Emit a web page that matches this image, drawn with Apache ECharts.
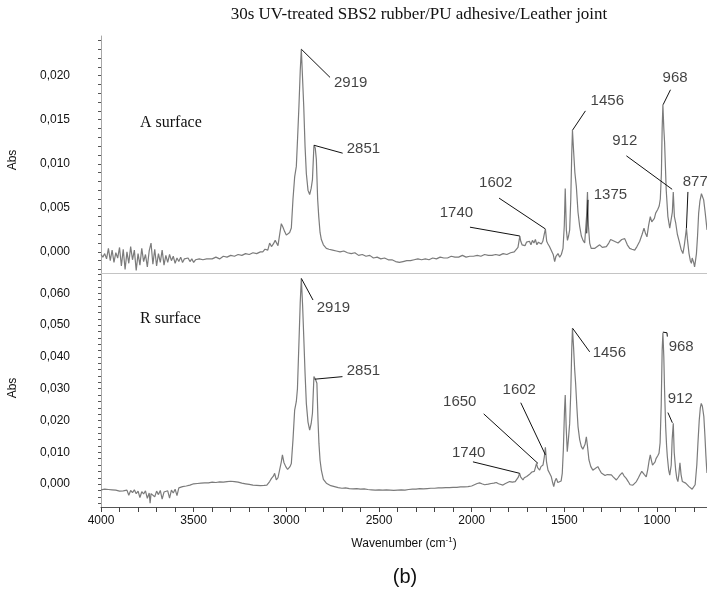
<!DOCTYPE html>
<html><head><meta charset="utf-8">
<script src="https://cdn.jsdelivr.net/npm/echarts@6/dist/echarts.min.js"></script>
<style>html,body{margin:0;padding:0;background:#fff}#c{width:707px;height:590px}</style>
</head><body><div id="c"></div>
<script>
// Spectrum A surface: [wavenumber, Abs]
const surfaceA = [[4000,-0.0003],[3990,-0.0006],[3980,-0.0002],[3970,-0.0008],[3960,0.0004],[3950,-0.0010],[3940,0.0002],[3930,-0.0012],[3920,-0.0001],[3910,-0.0007],[3900,0.0005],[3890,-0.0016],[3880,0.0003],[3870,-0.0020],[3860,0.0000],[3850,-0.0013],[3840,0.0006],[3830,-0.0009],[3820,0.0002],[3810,-0.0021],[3800,-0.0002],[3790,-0.0015],[3780,0.0004],[3770,-0.0011],[3760,-0.0003],[3750,-0.0017],[3740,0.0001],[3730,0.0010],[3720,-0.0014],[3710,0.0003],[3700,-0.0016],[3690,-0.0002],[3680,-0.0012],[3670,0.0002],[3660,-0.0015],[3650,-0.0004],[3640,-0.0012],[3630,-0.0003],[3620,-0.0010],[3610,-0.0005],[3600,-0.0013],[3590,-0.0007],[3580,-0.0011],[3570,-0.0006],[3560,-0.0012],[3550,-0.0008],[3540,-0.0010],[3530,-0.0007],[3520,-0.0011],[3510,-0.0008],[3500,-0.0012],[3490,-0.0009],[3480,-0.0011],[3470,-0.0008],[3460,-0.0010],[3450,-0.0009],[3440,-0.0011],[3430,-0.0008],[3420,-0.0010],[3400,-0.0008],[3380,-0.0006],[3360,-0.0008],[3340,-0.0005],[3320,-0.0006],[3300,-0.0004],[3280,-0.0005],[3260,-0.0003],[3240,-0.0004],[3220,-0.0002],[3200,-0.0003],[3180,-0.0001],[3160,-0.0002],[3140,0.0000],[3127,0.0000],[3115,0.0003],[3100,0.0002],[3090,0.0010],[3080,0.0006],[3070,0.0009],[3060,0.0013],[3054,0.0012],[3045,0.0007],[3036,0.0005],[3027,0.0032],[3018,0.0028],[3009,0.0023],[3000,0.0019],[2991,0.0017],[2982,0.0022],[2973,0.0027],[2964,0.0060],[2955,0.0085],[2946,0.0097],[2939,0.0130],[2932,0.0165],[2925,0.0205],[2919,0.0230],[2912,0.0195],[2906,0.0165],[2899,0.0120],[2892,0.0089],[2883,0.0070],[2874,0.0065],[2866,0.0072],[2859,0.0082],[2851,0.0121],[2844,0.0118],[2838,0.0105],[2831,0.0060],[2825,0.0040],[2818,0.0022],[2811,0.0014],[2800,0.0008],[2784,0.0004],[2770,0.0003],[2750,0.0002],[2730,0.0001],[2710,0.0000],[2690,0.0001],[2670,-0.0001],[2650,-0.0002],[2630,-0.0001],[2610,-0.0004],[2590,-0.0003],[2570,-0.0005],[2550,-0.0004],[2530,-0.0007],[2510,-0.0006],[2490,-0.0008],[2470,-0.0007],[2450,-0.0009],[2430,-0.0009],[2410,-0.0011],[2390,-0.0012],[2370,-0.0011],[2350,-0.0010],[2330,-0.0010],[2310,-0.0009],[2290,-0.0008],[2270,-0.0009],[2250,-0.0008],[2230,-0.0009],[2210,-0.0007],[2190,-0.0008],[2170,-0.0006],[2150,-0.0007],[2130,-0.0007],[2110,-0.0005],[2090,-0.0006],[2070,-0.0006],[2050,-0.0004],[2030,-0.0006],[2010,-0.0005],[1990,-0.0005],[1970,-0.0004],[1950,-0.0005],[1930,-0.0003],[1910,-0.0004],[1890,-0.0004],[1870,-0.0003],[1850,-0.0004],[1830,-0.0002],[1810,-0.0003],[1790,-0.0001],[1770,0.0000],[1760,0.0002],[1750,0.0005],[1740,0.0018],[1735,0.0012],[1728,0.0008],[1720,0.0010],[1712,0.0007],[1704,0.0011],[1696,0.0009],[1688,0.0012],[1680,0.0008],[1672,0.0013],[1664,0.0010],[1656,0.0014],[1648,0.0008],[1640,0.0011],[1632,0.0013],[1624,0.0009],[1616,0.0012],[1608,0.0020],[1602,0.0026],[1595,0.0012],[1588,0.0009],[1580,0.0006],[1570,0.0004],[1560,-0.0003],[1552,-0.0011],[1545,-0.0005],[1534,-0.0002],[1525,-0.0006],[1516,-0.0003],[1507,0.0004],[1500,0.0030],[1495,0.0072],[1489,0.0025],[1483,0.0013],[1477,0.0018],[1471,0.0025],[1465,0.0060],[1460,0.0110],[1456,0.0138],[1450,0.0115],[1443,0.0090],[1435,0.0074],[1426,0.0045],[1417,0.0029],[1408,0.0018],[1399,0.0013],[1390,0.0010],[1385,0.0012],[1380,0.0040],[1375,0.0068],[1370,0.0030],[1363,0.0010],[1355,0.0004],[1345,0.0002],[1335,0.0004],[1325,0.0006],[1309,0.0008],[1295,0.0005],[1285,0.0007],[1273,0.0006],[1260,0.0010],[1250,0.0014],[1241,0.0015],[1230,0.0012],[1220,0.0010],[1210,0.0010],[1200,0.0012],[1190,0.0014],[1174,0.0015],[1160,0.0008],[1147,0.0004],[1135,0.0003],[1120,0.0002],[1108,0.0006],[1093,0.0012],[1080,0.0020],[1070,0.0027],[1062,0.0021],[1054,0.0017],[1045,0.0030],[1036,0.0040],[1028,0.0034],[1021,0.0032],[1014,0.0038],[1007,0.0044],[996,0.0048],[988,0.0052],[982,0.0060],[976,0.0089],[972,0.0140],[968,0.0167],[963,0.0140],[959,0.0125],[950,0.0070],[941,0.0040],[931,0.0027],[923,0.0028],[917,0.0045],[912,0.0068],[906,0.0040],[899,0.0033],[890,0.0020],[880,0.0012],[870,0.0003],[860,-0.0002],[852,0.0008],[846,0.0018],[841,0.0027],[836,0.0015],[827,-0.0002],[820,-0.0010],[814,-0.0013],[810,-0.0007],[806,-0.0005],[802,-0.0012],[797,-0.0017],[792,-0.0010],[787,-0.0002],[781,0.0018],[775,0.0044],[768,0.0058],[760,0.0066],[754,0.0064],[748,0.0059],[740,0.0045],[732,0.0029],[730,0.0025]];

// Spectrum R surface: [wavenumber, Abs]
const surfaceR = [[4000,-0.0018],[3990,-0.0022],[3980,-0.0016],[3970,-0.0020],[3960,-0.0017],[3950,-0.0021],[3940,-0.0018],[3930,-0.0023],[3920,-0.0019],[3910,-0.0017],[3900,-0.0022],[3890,-0.0018],[3880,-0.0021],[3870,-0.0025],[3860,-0.0019],[3850,-0.0035],[3840,-0.0020],[3830,-0.0027],[3820,-0.0018],[3810,-0.0030],[3800,-0.0022],[3790,-0.0042],[3780,-0.0024],[3770,-0.0031],[3760,-0.0021],[3750,-0.0045],[3740,-0.0028],[3735,-0.0060],[3730,-0.0030],[3720,-0.0024],[3710,-0.0040],[3700,-0.0022],[3690,-0.0033],[3680,-0.0020],[3670,-0.0047],[3660,-0.0025],[3650,-0.0030],[3640,-0.0021],[3630,-0.0044],[3620,-0.0019],[3610,-0.0028],[3600,-0.0016],[3590,-0.0036],[3580,-0.0012],[3570,-0.0015],[3560,-0.0008],[3550,-0.0010],[3540,-0.0006],[3530,-0.0004],[3520,-0.0003],[3500,0.0001],[3480,0.0002],[3460,0.0003],[3440,0.0004],[3420,0.0004],[3400,0.0006],[3380,0.0005],[3360,0.0007],[3340,0.0006],[3320,0.0008],[3300,0.0009],[3290,0.0014],[3280,0.0008],[3260,0.0006],[3240,0.0003],[3220,0.0001],[3200,-0.0001],[3180,-0.0003],[3160,-0.0004],[3140,-0.0005],[3120,-0.0004],[3105,-0.0003],[3090,0.0008],[3080,0.0018],[3070,0.0025],[3063,0.0034],[3054,0.0013],[3045,0.0020],[3036,0.0023],[3027,0.0070],[3021,0.0092],[3013,0.0068],[3003,0.0055],[2993,0.0046],[2987,0.0044],[2980,0.0055],[2973,0.0065],[2964,0.0140],[2955,0.0233],[2946,0.0260],[2940,0.0300],[2932,0.0443],[2925,0.0570],[2919,0.0647],[2912,0.0560],[2906,0.0464],[2899,0.0350],[2892,0.0254],[2883,0.0195],[2874,0.0170],[2866,0.0190],[2859,0.0223],[2851,0.0338],[2843,0.0330],[2835,0.0317],[2829,0.0200],[2824,0.0128],[2818,0.0075],[2811,0.0044],[2800,0.0015],[2784,0.0003],[2760,-0.0005],[2740,-0.0008],[2720,-0.0011],[2700,-0.0013],[2680,-0.0012],[2660,-0.0014],[2640,-0.0015],[2620,-0.0014],[2600,-0.0016],[2580,-0.0015],[2560,-0.0017],[2540,-0.0018],[2520,-0.0019],[2500,-0.0018],[2480,-0.0019],[2460,-0.0018],[2440,-0.0019],[2420,-0.0020],[2400,-0.0019],[2380,-0.0018],[2360,-0.0019],[2340,-0.0017],[2320,-0.0016],[2300,-0.0016],[2280,-0.0014],[2260,-0.0015],[2240,-0.0014],[2220,-0.0013],[2200,-0.0013],[2180,-0.0012],[2160,-0.0012],[2140,-0.0011],[2120,-0.0011],[2100,-0.0010],[2080,-0.0010],[2060,-0.0009],[2040,-0.0009],[2020,-0.0008],[2000,-0.0006],[1985,-0.0002],[1970,0.0002],[1957,0.0004],[1945,0.0001],[1930,-0.0002],[1921,-0.0003],[1910,0.0000],[1895,0.0002],[1880,0.0003],[1867,0.0005],[1855,0.0001],[1845,-0.0001],[1831,-0.0003],[1820,0.0001],[1810,0.0004],[1795,0.0008],[1780,0.0006],[1765,0.0008],[1755,0.0012],[1748,0.0022],[1741,0.0034],[1735,0.0022],[1728,0.0016],[1723,0.0013],[1716,0.0020],[1710,0.0015],[1703,0.0024],[1696,0.0023],[1689,0.0030],[1682,0.0026],[1675,0.0038],[1669,0.0044],[1662,0.0040],[1656,0.0052],[1650,0.0065],[1644,0.0052],[1638,0.0048],[1633,0.0044],[1626,0.0055],[1620,0.0058],[1615,0.0060],[1608,0.0085],[1602,0.0116],[1596,0.0070],[1588,0.0044],[1580,0.0035],[1570,0.0023],[1563,0.0005],[1557,-0.0008],[1550,0.0010],[1543,0.0018],[1535,0.0005],[1525,0.0003],[1517,0.0010],[1511,0.0034],[1505,0.0110],[1499,0.0230],[1495,0.0280],[1490,0.0180],[1484,0.0102],[1478,0.0140],[1471,0.0191],[1465,0.0290],[1460,0.0420],[1456,0.0490],[1450,0.0430],[1444,0.0360],[1439,0.0317],[1432,0.0240],[1426,0.0181],[1417,0.0140],[1408,0.0118],[1400,0.0110],[1394,0.0107],[1388,0.0125],[1381,0.0149],[1375,0.0120],[1367,0.0076],[1357,0.0055],[1346,0.0044],[1335,0.0048],[1325,0.0052],[1319,0.0055],[1310,0.0045],[1300,0.0035],[1292,0.0029],[1280,0.0027],[1268,0.0030],[1258,0.0032],[1246,0.0029],[1235,0.0022],[1225,0.0016],[1219,0.0013],[1210,0.0020],[1200,0.0028],[1192,0.0034],[1187,0.0036],[1178,0.0026],[1166,0.0018],[1155,0.0008],[1145,-0.0002],[1138,-0.0008],[1130,-0.0003],[1120,0.0002],[1111,0.0008],[1100,0.0020],[1090,0.0032],[1082,0.0040],[1076,0.0044],[1068,0.0030],[1058,0.0023],[1050,0.0045],[1042,0.0075],[1036,0.0092],[1030,0.0075],[1024,0.0060],[1018,0.0055],[1010,0.0070],[1005,0.0080],[1000,0.0086],[995,0.0090],[989,0.0097],[983,0.0130],[977,0.0250],[972,0.0420],[968,0.0476],[963,0.0400],[959,0.0296],[953,0.0180],[948,0.0120],[944,0.0086],[937,0.0045],[931,0.0028],[928,0.0023],[923,0.0060],[918,0.0140],[912,0.0191],[907,0.0100],[899,0.0044],[893,0.0018],[887,0.0008],[882,0.0030],[876,0.0067],[870,0.0030],[863,0.0008],[855,0.0006],[845,0.0003],[836,-0.0002],[827,-0.0008],[818,-0.0012],[810,-0.0016],[806,-0.0019],[800,-0.0012],[794,-0.0002],[791,0.0003],[785,0.0060],[779,0.0128],[772,0.0200],[766,0.0240],[761,0.0254],[755,0.0245],[747,0.0212],[741,0.0150],[736,0.0090],[732,0.0050],[730,0.0035]];

// Tick / label values
const xTickValues = [800,900,1000,1100,1200,1300,1400,1500,1600,1700,1800,1900,2000,2100,2200,2300,2400,2500,2600,2700,2800,2900,3000,3100,3200,3300,3400,3500,3600,3700,3800,3900,4000];
const xLabelValues = [1000,1500,2000,2500,3000,3500,4000];
const yTicksA = [-0.002,-0.001,0,0.001,0.002,0.003,0.004,0.005,0.006,0.007,0.008,0.009,0.010,0.011,0.012,0.013,0.014,0.015,0.016,0.017,0.018,0.019,0.020,0.021,0.022,0.023,0.024];
const yLabelsA = [0,0.005,0.010,0.015,0.020];
const yTicksR = [-0.006,-0.004,-0.002,0,0.002,0.004,0.006,0.008,0.010,0.012,0.014,0.016,0.018,0.020,0.022,0.024,0.026,0.028,0.030,0.032,0.034,0.036,0.038,0.040,0.042,0.044,0.046,0.048,0.050,0.052,0.054,0.056,0.058,0.060,0.062,0.064,0.066];
const yLabelsR = [0,0.010,0.020,0.030,0.040,0.050,0.060];

// Peak annotations (leader line points + label anchor, in data coords)
const peaksA = [
  {name:'2919', line:[[2919,0.0230],[2764,0.0198]], at:[2743,0.0192], align:'left'},
  {name:'2851', line:[[2851,0.0121],[2696,0.0112]], at:[2674,0.0117], align:'left'},
  {name:'1740', line:[[2009,0.0028],[1740,0.0018]], at:[2082,0.0044], align:'center'},
  {name:'1602', line:[[1852,0.0061],[1602,0.0026]], at:[1870,0.0078], align:'center'},
  {name:'1456', line:[[1386,0.0160],[1456,0.0138]], at:[1358,0.0171], align:'left'},
  {name:'1375', line:[[1372,0.0059],[1379,0.0021]], at:[1341,0.0065], align:'left'},
  {name:'968',  line:[[927,0.0184],[967,0.0167]],   at:[902,0.0197],  align:'center'},
  {name:'912',  line:[[1165,0.0109],[918,0.0071]],  at:[1174,0.0126], align:'center'},
  {name:'877',  line:[[833,0.0068],[841,0.0027]],   at:[861,0.0080],  align:'left'}
];
const peaksR = [
  {name:'2919', line:[[2919,0.0647],[2856,0.0579]], at:[2836,0.0554], align:'left'},
  {name:'2851', line:[[2847,0.0330],[2697,0.0338]], at:[2674,0.0356], align:'left'},
  {name:'1740', line:[[1993,0.0070],[1741,0.0034]], at:[2016,0.0098], align:'center'},
  {name:'1650', line:[[1935,0.0221],[1642,0.0065]], at:[2064,0.0258], align:'center'},
  {name:'1602', line:[[1735,0.0256],[1602,0.0092]], at:[1743,0.0296], align:'center'},
  {name:'1456', line:[[1455,0.0490],[1363,0.0416]], at:[1347,0.0412], align:'left'},
  {name:'968',  line:[[968,0.0478],[946,0.0476],[944,0.0464]], at:[937,0.0431], align:'left'},
  {name:'912',  line:[[941,0.0225],[917,0.0193]],   at:[942,0.0268],  align:'left'}
];

const SANS = '"Liberation Sans", Arial, sans-serif';
const SERIF = '"Liberation Serif", "Times New Roman", serif';
const fmt = v => v.toFixed(3).replace('.', ',');

function segs(peaks){
  const out = [];
  peaks.forEach(p => { for (let i=0;i<p.line.length-1;i++) out.push([{coord:p.line[i]},{coord:p.line[i+1]}]); });
  return out;
}
function labels(peaks){
  return peaks.map(p => ({value:p.at, name:p.name, label:{position: p.align==='left' ? 'right' : 'inside', distance:0}}));
}

const chart = echarts.init(document.getElementById('c'), null, {renderer:'canvas'});
const xCommon = {type:'value', inverse:true, min:730, max:4000, splitLine:{show:false}};
const yCommon = {type:'value', splitLine:{show:false}};
chart.setOption({
  animation:false,
  backgroundColor:'#fff',
  grid:[
    {left:101, right:0, top:36, height:237},
    {left:101, right:0, top:273, height:234}
  ],
  xAxis:[
    Object.assign({}, xCommon, {gridIndex:0, axisLine:{show:true, onZero:false, lineStyle:{color:'#c4c4c4', width:1}}, axisTick:{show:false}, axisLabel:{show:false}}),
    Object.assign({}, xCommon, {gridIndex:1, axisLine:{show:true, onZero:false, lineStyle:{color:'#555', width:1}},
      axisTick:{show:true, customValues:xTickValues, length:5, lineStyle:{color:'#444'}},
      axisLabel:{customValues:xLabelValues, formatter:v => String(Math.round(v)), margin:8, fontSize:12, color:'#111', fontFamily:SANS},
      name:'{a|Wavenumber (cm}{s|-1}{a|)}', nameLocation:'middle', nameGap:29,
      nameTextStyle:{rich:{a:{fontSize:12, fontFamily:SANS, color:'#111'}, s:{fontSize:8, fontFamily:SANS, color:'#111', padding:[0,0,7,0]}}}})
  ],
  yAxis:[
    Object.assign({}, yCommon, {gridIndex:0, min:-0.0024, max:0.0245, axisLine:{show:true, onZero:false, lineStyle:{color:'#a8a8a8'}},
      axisTick:{show:true, customValues:yTicksA, length:3, lineStyle:{color:'#555'}},
      axisLabel:{customValues:yLabelsA, formatter:fmt, margin:31, fontSize:12, color:'#111', fontFamily:SANS}}),
    Object.assign({}, yCommon, {gridIndex:1, min:-0.0072, max:0.0664, axisLine:{show:true, onZero:false, lineStyle:{color:'#a8a8a8'}},
      axisTick:{show:true, customValues:yTicksR, length:3, lineStyle:{color:'#555'}},
      axisLabel:{customValues:yLabelsR, formatter:fmt, margin:31, fontSize:12, color:'#111', fontFamily:SANS}}),
    Object.assign({}, yCommon, {gridIndex:0, min:-0.0024, max:0.0245, axisLine:{show:false},
      axisTick:{show:true, customValues:yLabelsA, length:6, lineStyle:{color:'#555'}}, axisLabel:{show:false}}),
    Object.assign({}, yCommon, {gridIndex:1, min:-0.0072, max:0.0664, axisLine:{show:false},
      axisTick:{show:true, customValues:yLabelsR, length:6, lineStyle:{color:'#555'}}, axisLabel:{show:false}})
  ],
  series:[
    {type:'line', xAxisIndex:0, yAxisIndex:0, data:surfaceA, showSymbol:false, symbol:'none',
      lineStyle:{color:'#7b7b7b', width:1.2},
      markLine:{silent:true, symbol:['none','none'], label:{show:false}, lineStyle:{color:'#111', width:1, type:'solid'}, data:segs(peaksA)}},
    {type:'line', xAxisIndex:1, yAxisIndex:1, data:surfaceR, showSymbol:false, symbol:'none',
      lineStyle:{color:'#7b7b7b', width:1.2},
      markLine:{silent:true, symbol:['none','none'], label:{show:false}, lineStyle:{color:'#111', width:1, type:'solid'}, data:segs(peaksR)}},
    {type:'scatter', xAxisIndex:0, yAxisIndex:0, symbolSize:0, silent:true, data:labels(peaksA),
      label:{show:true, formatter:'{b}', color:'#111', fontSize:15, fontFamily:SANS}},
    {type:'scatter', xAxisIndex:1, yAxisIndex:1, symbolSize:0, silent:true, data:labels(peaksR),
      label:{show:true, formatter:'{b}', color:'#111', fontSize:15, fontFamily:SANS}}
  ],
  graphic:[
    {type:'text', x:419, y:15, style:{text:'30s UV-treated SBS2 rubber/PU adhesive/Leather joint', font:'17px ' + SERIF, fill:'#111', align:'center', verticalAlign:'middle'}},
    {type:'text', x:140, y:123, style:{text:'A surface', font:'16px ' + SERIF, fill:'#111', align:'left', verticalAlign:'middle'}},
    {type:'text', x:140, y:319, style:{text:'R surface', font:'16px ' + SERIF, fill:'#111', align:'left', verticalAlign:'middle'}},
    {type:'text', x:13, y:160, rotation:Math.PI/2, style:{text:'Abs', font:'12px ' + SANS, fill:'#111', align:'center', verticalAlign:'middle'}},
    {type:'text', x:13, y:388, rotation:Math.PI/2, style:{text:'Abs', font:'12px ' + SANS, fill:'#111', align:'center', verticalAlign:'middle'}},
    {type:'text', x:405, y:577, style:{text:'(b)', font:'20px ' + SANS, fill:'#111', align:'center', verticalAlign:'middle'}}
  ]
});
</script></body></html>
